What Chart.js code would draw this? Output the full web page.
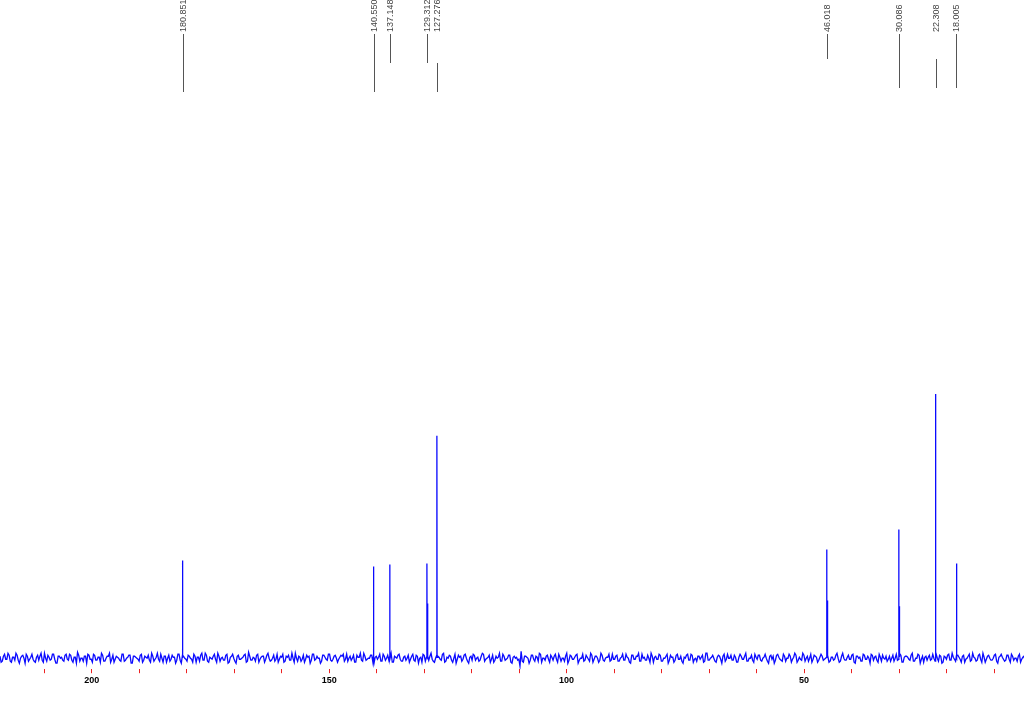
<!DOCTYPE html>
<html>
<head>
<meta charset="utf-8">
<script src="https://cdn.jsdelivr.net/npm/chart.js@4/dist/chart.umd.min.js"></script>
<style>
  html, body { margin: 0; padding: 0; background: #fff; }
  #wrap { width: 1024px; height: 717px; position: relative; }
</style>
</head>
<body>
<div id="wrap"><canvas id="c" width="1024" height="717"></canvas></div>
<script>
// ---- Data ----
// Peak positions as they appear on the axis (ppm), heights (arbitrary units) and printed labels
const peakPpm    = [180.85, 140.65, 137.25, 129.4, 127.3, 45.25, 30.05, 22.3, 17.95];
const peakHeight = [98, 92, 94, 95, 223, 109, 129, 265, 95];
const peakLabels = ["180.851", "140.550", "137.148", "129.312", "127.276", "46.018", "30.086", "22.308", "18.005"];
// shoulder lines beside some peaks
const shoulderPpm    = [129.25, 45.15, 29.95, 17.85];
const shoulderHeight = [55, 58, 52, 40];
// leader line extents for the peak labels (px from top)
const leaderTop    = [34, 34, 34, 34, 63, 34, 34, 59, 34];
const leaderBottom = [92, 92, 63, 63, 92, 59, 88, 88, 88];

// Axis range (ppm) and tick labels
const ppmMax = 219.3;
const ppmMin = 3.7;
const tickLabelValues = [200, 150, 100, 50];

// Baseline noise, two interleaved evenly spaced traces from ppmMax to ppmMin
const noiseA = [
 2,-3,4,-1,3,-4,1,5,-2,0,3,-5,2,-1,4,-3,1,-2,5,-4,0,3,-2,4,-1,-5,2,1,-3,4,
 -2,3,-4,1,6,-3,0,2,-5,3,-1,4,-2,1,-4,3,-3,2,5,-1,-4,2,0,-3,4,-2,1,3,-5,2,
 0,-3,4,-2,1,3,-4,2,-1,5,-3,0,2,-4,3,-1,1,-5,4,-2,3,0,-3,2,-1,4,-4,1,3,-2,
 5,-3,1,-1,4,-4,2,0,-2,3,-5,1,4,-3,2,-1,0,3,-4,6,-2,1,-3,4,-1,2,-4,3,0,-2,
 3,-1,-4,2,4,-3,1,-2,5,-4,0,2,-3,3,-1,1,-5,4,-2,2,0,-3,3,-1,4,-2,-1,3,-4,1,
 2,-3,4,0,-2,3,-4,1,5,-3,2,-1,0,3,-5,2,1,-3,4,-2,3,-1,-4,2,0,4,-3,1,-2,3,
 -1,4,-3,2,0,-4,3,1,-2,5,-3,0,2,-1,4,-4,1,3,-2,0,-5,3,2,-1,4,-3,1,-2,3,0,
 -3,2,4,-1,1,-4,3,-2,0,5,-3,2,-1,3,-4,1,0,-2,-8,-3,2,1,-5,3,-1,2,-3,4,0,-2,
 3,-4,1,2,-1,4,-3,0,2,-5,3,-1,1,4,-2,0,-3,3,-1,5,-4,2,0,-2,3,-3,1,4,-2,-1,
 2,-3,0,4,-2,1,-4,3,-1,2,5,-3,0,-2,3,-4,2,1,-1,4,-3,0,2,-5,3,1,-2,4,-1,-3,
 1,3,-2,4,-4,0,2,-1,3,-3,5,-2,1,0,-4,3,-1,2,-3,4,0,-2,3,-4,1,2,-1,5,-3,0,
 -2,4,-1,3,-3,1,0,-5,3,2,-2,4,-1,-3,2,0,4,-4,1,3,-2,-1,5,-3,2,0,-4,3,1,-2,
 4,-2,0,3,-3,1,-1,5,-4,2,0,-2,3,-1,4,-5,2,1,-3,3,-1,0,4,-2,2,-4,1,3,-1,-3,
 2,0,-3,4,-1,3,-4,2,1,-2,5,-3,0,3,-1,-4,2,1,-2,4,-3,0,3,-5,2,-1,4,-2,1,-3,
 3,-1,2,-4,0,4,-2,1,-3,3,-1,5,-4,2,0,-2,3,-3,1,4,-1,-2,3,-4,2,0,-3,4,-1,2
];
const noiseB = [
 -4,2,-1,5,-3,1,-2,3,-5,2,0,4,-3,1,-1,-4,3,2,-2,5,-3,1,-1,4,-5,2,0,-2,3,-1,
 4,-2,1,-5,3,0,-3,2,4,-1,-4,3,-2,1,5,-3,0,2,-4,3,-1,1,-2,4,-3,0,3,-5,2,1,
 -1,3,-4,2,0,-2,5,-3,1,-1,4,-4,2,0,-3,3,1,-2,4,-5,2,-1,3,0,-4,2,1,-3,5,-2,
 3,-4,0,2,-1,5,-3,1,-2,4,-4,2,0,-5,3,-1,1,4,-3,2,-2,0,3,-4,1,2,-1,5,-3,0,
 -3,4,-1,1,-4,2,3,-2,0,5,-3,1,-1,-4,3,2,-2,4,-1,0,-5,3,1,-2,4,-3,2,0,-1,3,
 4,-1,-3,2,0,-4,3,1,-2,5,-2,0,3,-4,1,-1,4,-3,2,0,-2,5,-4,1,3,-1,-3,2,0,-4,
 2,-2,3,-5,1,4,-3,0,2,-1,-4,3,1,-2,5,-3,0,2,-4,4,-1,1,-3,3,0,-5,2,4,-2,1,
 -2,5,-3,0,3,-1,-4,2,1,-3,4,-2,0,3,-5,2,1,-1,7,-4,2,0,-2,3,-3,1,5,-4,0,2,
 -1,3,-2,4,-4,1,0,-3,5,-2,2,-1,3,-5,0,4,-2,1,-3,3,-1,2,-4,5,-2,0,1,-3,4,-1,
 3,-3,1,-2,4,0,-5,3,-1,2,-3,4,1,-2,0,5,-4,2,-1,3,-3,0,4,-2,1,-4,3,-1,2,-5,
 0,4,-2,3,-1,-3,2,1,-4,5,-2,0,3,-3,1,2,-5,4,-1,0,3,-2,1,-4,4,-1,2,-3,0,3,
 -4,1,3,-2,0,4,-3,2,-1,-5,3,1,-2,4,-3,0,2,-1,5,-4,1,-2,3,0,-3,4,-1,2,-4,1,
 2,-1,4,-4,1,-2,3,0,-3,5,-2,1,-1,3,-4,2,0,-3,4,-1,2,-5,3,1,-2,4,-3,0,2,-1,
 -3,3,0,-2,5,-4,1,2,-1,3,-3,0,4,-5,2,1,-2,3,-1,0,4,-3,2,-4,1,3,-2,5,-1,0,
 1,-4,3,-1,2,-3,5,0,-2,4,-4,1,-1,3,-2,0,4,-5,2,1,-3,3,-1,4,-2,0,2,-4,1,-3
];

// ---- Build the spectrum points ----
const pts = [];
const step = (ppmMax - ppmMin) / (noiseA.length - 1);
for (let i = 0; i < noiseA.length; i++) {
  pts.push({ x: ppmMax - i * step, y: noiseA[i] });
  pts.push({ x: ppmMax - (i + 0.5) * step, y: noiseB[i] });
}
for (let k = 0; k < peakPpm.length; k++) {
  pts.push({ x: peakPpm[k] + 0.03, y: 1 });
  pts.push({ x: peakPpm[k], y: peakHeight[k] });
  pts.push({ x: peakPpm[k] - 0.03, y: 1 });
}
for (let k = 0; k < shoulderPpm.length; k++) {
  pts.push({ x: shoulderPpm[k] + 0.03, y: 2 });
  pts.push({ x: shoulderPpm[k], y: shoulderHeight[k] });
  pts.push({ x: shoulderPpm[k] - 0.03, y: 2 });
}
pts.sort((a, b) => b.x - a.x);

// ---- Peak label plugin ----
const peakLabelPlugin = {
  id: 'peakLabels',
  afterDraw(chart) {
    const ctx = chart.ctx;
    const xs = chart.scales.x;
    ctx.save();
    for (let k = 0; k < peakPpm.length; k++) {
      const px = Math.round(xs.getPixelForValue(peakPpm[k])) + 0.5;
      ctx.strokeStyle = '#555';
      ctx.lineWidth = 1;
      ctx.beginPath();
      ctx.moveTo(px, leaderTop[k]);
      ctx.lineTo(px, leaderBottom[k]);
      ctx.stroke();
      ctx.save();
      ctx.translate(px, 32);
      ctx.rotate(-Math.PI / 2);
      ctx.fillStyle = '#444';
      ctx.font = '9px "Liberation Sans", Arial, sans-serif';
      ctx.textAlign = 'left';
      ctx.textBaseline = 'middle';
      ctx.fillText(peakLabels[k], 0, 0);
      ctx.restore();
    }
    ctx.restore();
  }
};

new Chart(document.getElementById('c'), {
  type: 'line',
  data: {
    datasets: [{
      data: pts,
      borderColor: '#0a0aff',
      borderWidth: 1.3,
      pointRadius: 0,
      tension: 0,
      fill: false
    }]
  },
  options: {
    responsive: false,
    animation: false,
    layout: { padding: { left: 0, right: 0, top: 0, bottom: 29 } },
    plugins: { legend: { display: false }, tooltip: { enabled: false } },
    scales: {
      x: {
        type: 'linear',
        reverse: true,
        min: ppmMin,
        max: ppmMax,
        border: { display: false },
        grid: {
          drawOnChartArea: false,
          drawTicks: true,
          tickLength: 4,
          color: '#ee2222',
          tickColor: '#ee2222',
          tickWidth: 1
        },
        ticks: {
          stepSize: 10,
          includeBounds: false,
          autoSkip: false,
          maxRotation: 0,
          padding: 2,
          color: '#000',
          font: { family: '"Liberation Sans", Arial, sans-serif', size: 9, weight: 'bold' },
          callback: (v) => tickLabelValues.includes(v) ? String(v) : ''
        }
      },
      y: {
        display: false,
        min: -11,
        max: 660
      }
    }
  },
  plugins: [peakLabelPlugin]
});
</script>
</body>
</html>
